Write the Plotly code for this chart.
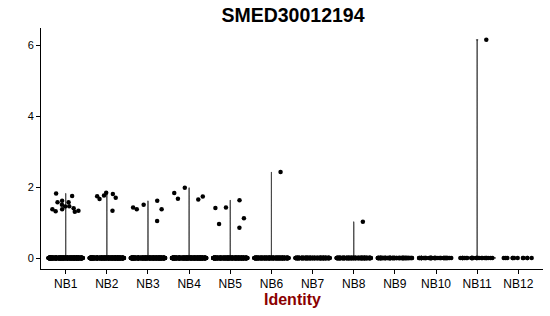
import plotly.graph_objects as go

clusters = ["NB1", "NB2", "NB3", "NB4", "NB5", "NB6", "NB7", "NB8", "NB9", "NB10", "NB11", "NB12"]
zero_counts = [420, 400, 380, 380, 340, 260, 170, 160, 90, 45, 25, 12]
nb1 = [1.37, 1.32, 1.82, 1.57, 1.50, 1.45, 1.75, 1.61, 1.33, 1.30, 1.37, 1.40, 1.46, 1.57]
nb2 = [1.84, 1.74, 1.66, 1.33, 1.80, 1.76, 1.70]
nb3 = [1.37, 1.37, 1.61, 1.42, 1.50, 1.04]
nb4 = [1.98, 1.83, 1.73, 1.65, 1.67]
nb5 = [1.63, 1.12, 1.42, 1.41, 0.85, 0.96]
nb6 = [2.42]
nb7 = []
nb8 = [1.02]
nb9 = []
nb10 = []
nb11 = [6.15]
nb12 = []
nonzero = [nb1, nb2, nb3, nb4, nb5, nb6, nb7, nb8, nb9, nb10, nb11, nb12]

title_text = "SMED30012194"
x_title = "Identity"
y_ticks = [0, 2, 4, 6]

FONT = "Liberation Sans, Arial, sans-serif"

fig = go.Figure()
for name, n0, nz in zip(clusters, zero_counts, nonzero):
    vals = [0.0] * n0 + list(nz)
    if max(vals) > 0:
        fig.add_trace(go.Violin(
            x=[name] * len(vals), y=vals, points=False, spanmode="hard",
            scalemode="width", width=0.9, bandwidth=0.02,
            line=dict(color="#333333", width=1),
            fillcolor="#333333", box_visible=False, meanline_visible=False,
            hoverinfo="skip", showlegend=False))
    fig.add_trace(go.Box(
        x=[name] * n0, y=[0.0] * n0, boxpoints="all", jitter=0.93, pointpos=0,
        width=0.9, marker=dict(color="black", size=4.5),
        line=dict(width=0), fillcolor="rgba(0,0,0,0)", showlegend=False))
    if len(nz) > 0:
        fig.add_trace(go.Box(
            x=[name] * len(nz), y=list(nz), boxpoints="all", jitter=0.95, pointpos=0,
            width=0.9, marker=dict(color="black", size=4.5),
            line=dict(width=0), fillcolor="rgba(0,0,0,0)", showlegend=False))

fig.update_layout(
    width=550, height=316,
    margin=dict(l=41, r=7, t=28, b=47),
    paper_bgcolor="white", plot_bgcolor="white",
    boxmode="overlay", violinmode="overlay",
    font=dict(family=FONT, color="black", size=12),
    title=dict(text="<b>" + title_text + "</b>", x=293 / 550, xanchor="center",
               y=1 - 15 / 316, yanchor="middle", yref="container", xref="container",
               font=dict(family=FONT, size=19.5, color="black")),
    xaxis=dict(type="category", categoryorder="array", categoryarray=clusters,
               range=[-0.6, 11.6], showline=True, linecolor="black", linewidth=1,
               ticks="outside", ticklen=4, tickcolor="black", showgrid=False,
               zeroline=False, tickfont=dict(size=12, color="black")),
    yaxis=dict(range=[-0.31, 6.48], tickvals=y_ticks, showline=True, linecolor="black",
               linewidth=1, ticks="outside", ticklen=4, tickcolor="black",
               showgrid=False, zeroline=False, tickfont=dict(size=11, color="black")),
    annotations=[dict(text="<b>" + x_title + "</b>", x=0.5, xref="paper",
                      y=-30 / 241, yref="paper", yanchor="middle", showarrow=False,
                      font=dict(family=FONT, size=16, color="#8B0000"))],
)

fig.write_html("out.html")
